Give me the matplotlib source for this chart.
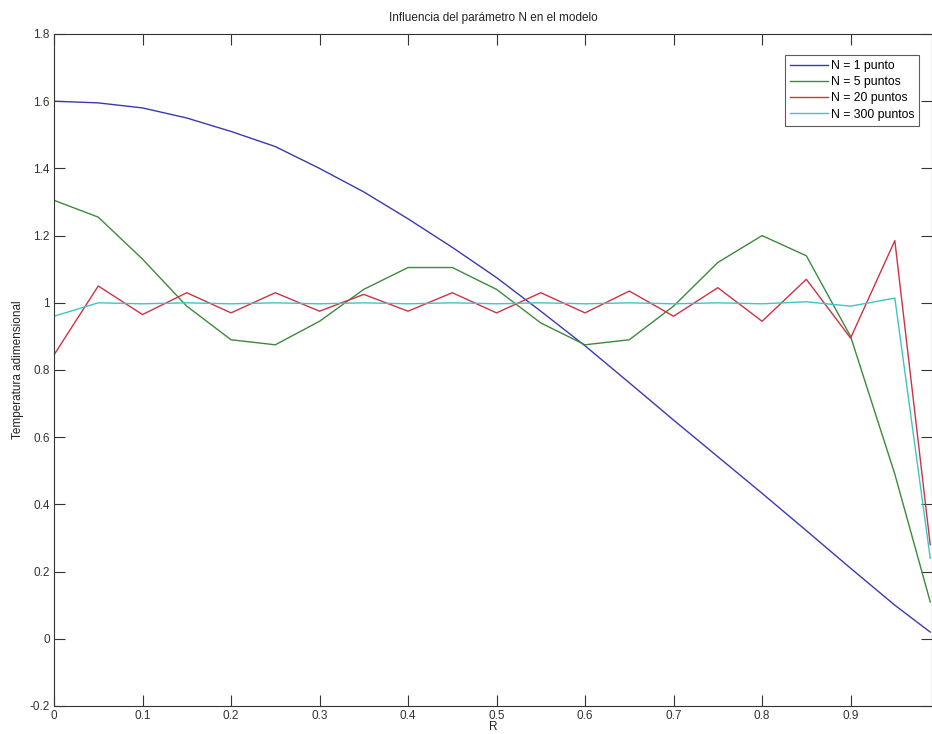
import matplotlib
matplotlib.use("Agg")
import matplotlib.pyplot as plt

plt.rcParams['font.family'] = ['Liberation Sans', 'DejaVu Sans']

R = [0.0, 0.05, 0.10, 0.15, 0.20, 0.25, 0.30, 0.35, 0.40, 0.45, 0.50,
     0.55, 0.60, 0.65, 0.70, 0.75, 0.80, 0.85, 0.90, 0.95, 0.99]

T_N1 = [1.60, 1.595, 1.58, 1.55, 1.51, 1.465, 1.40, 1.33, 1.25, 1.165, 1.075,
        0.975, 0.872, 0.762, 0.651, 0.542, 0.433, 0.322, 0.21, 0.10, 0.02]
T_N5 = [1.305, 1.255, 1.13, 0.99, 0.89, 0.875, 0.945, 1.04, 1.105, 1.105, 1.04,
        0.94, 0.875, 0.89, 0.99, 1.12, 1.20, 1.14, 0.90, 0.49, 0.11]
T_N20 = [0.845, 1.05, 0.965, 1.03, 0.97, 1.03, 0.975, 1.025, 0.975, 1.03, 0.97,
         1.03, 0.97, 1.035, 0.96, 1.045, 0.945, 1.07, 0.895, 1.185, 0.28]
T_N300 = [0.96, 1.0, 0.997, 1.0, 0.997, 1.0, 0.997, 1.0, 0.997, 1.0, 0.997,
          1.0, 0.997, 1.0, 0.997, 1.0, 0.997, 1.003, 0.99, 1.014, 0.24]

labels = ['N = 1 punto', 'N = 5 puntos', 'N = 20 puntos', 'N = 300 puntos']
colors = ['#3a3ab0', '#3c8a3c', '#cc3344', '#40c4c4']

xticks = [0, 0.1, 0.2, 0.3, 0.4, 0.5, 0.6, 0.7, 0.8, 0.9]
xticklabels = ['0', '0.1', '0.2', '0.3', '0.4', '0.5', '0.6', '0.7', '0.8', '0.9']
yticks = [-0.2, 0, 0.2, 0.4, 0.6, 0.8, 1.0, 1.2, 1.4, 1.6, 1.8]
yticklabels = ['-0.2', '0', '0.2', '0.4', '0.6', '0.8', '1', '1.2', '1.4', '1.6', '1.8']

fig = plt.figure(figsize=(9.32, 7.34), dpi=100)
ax = fig.add_axes([54/932, 28/734, 878/932, 672/734])

for y, lab, c in zip([T_N1, T_N5, T_N20, T_N300], labels, colors):
    ax.plot(R, y, color=c, lw=1.0, label=lab)

ax.set_xlim(0, 0.992)
ax.set_ylim(-0.2, 1.8)
ax.set_xticks(xticks)
ax.set_xticklabels(xticklabels)
ax.set_yticks(yticks)
ax.set_yticklabels(yticklabels)
ax.tick_params(direction='in', length=8, width=0.8, top=True, right=True,
               labelsize=8.5, colors='#333333', pad=3)
for s in ax.spines.values():
    s.set_color('#333333')
    s.set_linewidth(0.8)

ax.set_title('Influencia del parámetro N en el modelo', fontsize=8.5, color='#222222', pad=9)
ax.set_xlabel('R', fontsize=8.5, color='#222222', labelpad=-1)
ax.set_ylabel('Temperatura adimensional', fontsize=8.5, color='#222222', labelpad=4)

leg = ax.legend(loc='upper right', bbox_to_anchor=((919 - 54) / 878, (706 - 55) / 672),
                fontsize=8.8, frameon=True, fancybox=False,
                edgecolor='#333333', borderaxespad=0, handlelength=3.1,
                handletextpad=0.2, labelspacing=0.35, borderpad=0.4)
leg.get_frame().set_linewidth(0.8)

fig.savefig('out.png', dpi=100)
